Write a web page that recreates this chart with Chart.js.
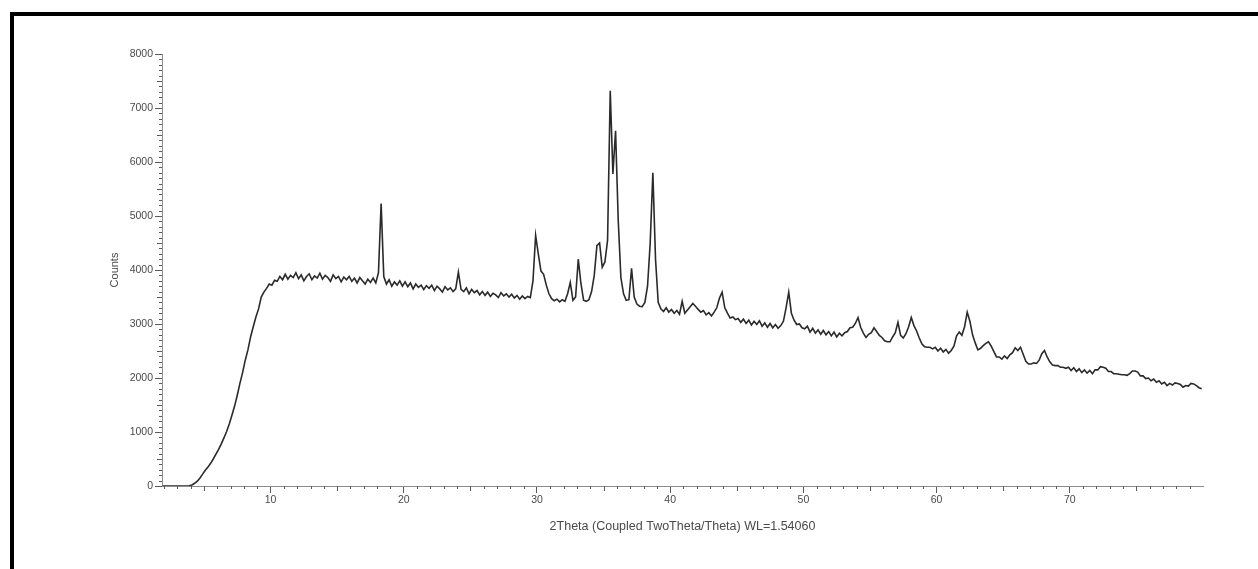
<!DOCTYPE html>
<html>
<head>
<meta charset="utf-8">
<script src="https://cdn.jsdelivr.net/npm/chart.js@4.4.1/dist/chart.umd.min.js"></script>
<style>
    body { margin: 0; background: #fff; }
    .wrap { position: relative; width: 1258px; height: 569px; overflow: hidden; background: #fff; }
    .frame { position: absolute; left: 10px; top: 12px; right: -10px; bottom: -10px; border-top: 4px solid #000; border-left: 4px solid #000; }
    canvas { position: absolute; left: 0; top: 0; }
</style>
</head>
<body>
<div class="wrap">
    <div class="frame"></div>
    <canvas id="xrdChart" width="1258" height="569"></canvas>
</div>
<script>
// 2theta 값 (스캔 위치), 한 줄 = 2도 구간
const twoTheta = [
    1.9, 2.1, 2.3, 2.5, 2.7, 2.9, 3.1, 3.3, 3.5, 3.7,
    3.9, 4.1, 4.3, 4.5, 4.7, 4.9, 5.1, 5.3, 5.5, 5.7,
    5.9, 6.1, 6.3, 6.5, 6.7, 6.9, 7.1, 7.3, 7.5, 7.7,
    7.9, 8.1, 8.3, 8.5, 8.7, 8.9, 9.1, 9.3, 9.5, 9.7,
    9.9, 10.1, 10.3, 10.5, 10.7, 10.9, 11.1, 11.3, 11.5, 11.7,
    11.9, 12.1, 12.3, 12.5, 12.7, 12.9, 13.1, 13.3, 13.5, 13.7,
    13.9, 14.1, 14.3, 14.5, 14.7, 14.9, 15.1, 15.3, 15.5, 15.7,
    15.9, 16.1, 16.3, 16.5, 16.7, 16.9, 17.1, 17.3, 17.5, 17.7,
    17.9, 18.1, 18.3, 18.5, 18.7, 18.9, 19.1, 19.3, 19.5, 19.7,
    19.9, 20.1, 20.3, 20.5, 20.7, 20.9, 21.1, 21.3, 21.5, 21.7,
    21.9, 22.1, 22.3, 22.5, 22.7, 22.9, 23.1, 23.3, 23.5, 23.7,
    23.9, 24.1, 24.3, 24.5, 24.7, 24.9, 25.1, 25.3, 25.5, 25.7,
    25.9, 26.1, 26.3, 26.5, 26.7, 26.9, 27.1, 27.3, 27.5, 27.7,
    27.9, 28.1, 28.3, 28.5, 28.7, 28.9, 29.1, 29.3, 29.5, 29.7,
    29.9, 30.1, 30.3, 30.5, 30.7, 30.9, 31.1, 31.3, 31.5, 31.7,
    31.9, 32.1, 32.3, 32.5, 32.7, 32.9, 33.1, 33.3, 33.5, 33.7,
    33.9, 34.1, 34.3, 34.5, 34.7, 34.9, 35.1, 35.3, 35.5, 35.7,
    35.9, 36.1, 36.3, 36.5, 36.7, 36.9, 37.1, 37.3, 37.5, 37.7,
    37.9, 38.1, 38.3, 38.5, 38.7, 38.9, 39.1, 39.3, 39.5, 39.7,
    39.9, 40.1, 40.3, 40.5, 40.7, 40.9, 41.1, 41.3, 41.5, 41.7,
    41.9, 42.1, 42.3, 42.5, 42.7, 42.9, 43.1, 43.3, 43.5, 43.7,
    43.9, 44.1, 44.3, 44.5, 44.7, 44.9, 45.1, 45.3, 45.5, 45.7,
    45.9, 46.1, 46.3, 46.5, 46.7, 46.9, 47.1, 47.3, 47.5, 47.7,
    47.9, 48.1, 48.3, 48.5, 48.7, 48.9, 49.1, 49.3, 49.5, 49.7,
    49.9, 50.1, 50.3, 50.5, 50.7, 50.9, 51.1, 51.3, 51.5, 51.7,
    51.9, 52.1, 52.3, 52.5, 52.7, 52.9, 53.1, 53.3, 53.5, 53.7,
    53.9, 54.1, 54.3, 54.5, 54.7, 54.9, 55.1, 55.3, 55.5, 55.7,
    55.9, 56.1, 56.3, 56.5, 56.7, 56.9, 57.1, 57.3, 57.5, 57.7,
    57.9, 58.1, 58.3, 58.5, 58.7, 58.9, 59.1, 59.3, 59.5, 59.7,
    59.9, 60.1, 60.3, 60.5, 60.7, 60.9, 61.1, 61.3, 61.5, 61.7,
    61.9, 62.1, 62.3, 62.5, 62.7, 62.9, 63.1, 63.3, 63.5, 63.7,
    63.9, 64.1, 64.3, 64.5, 64.7, 64.9, 65.1, 65.3, 65.5, 65.7,
    65.9, 66.1, 66.3, 66.5, 66.7, 66.9, 67.1, 67.3, 67.5, 67.7,
    67.9, 68.1, 68.3, 68.5, 68.7, 68.9, 69.1, 69.3, 69.5, 69.7,
    69.9, 70.1, 70.3, 70.5, 70.7, 70.9, 71.1, 71.3, 71.5, 71.7,
    71.9, 72.1, 72.3, 72.5, 72.7, 72.9, 73.1, 73.3, 73.5, 73.7,
    73.9, 74.1, 74.3, 74.5, 74.7, 74.9, 75.1, 75.3, 75.5, 75.7,
    75.9, 76.1, 76.3, 76.5, 76.7, 76.9, 77.1, 77.3, 77.5, 77.7,
    77.9, 78.1, 78.3, 78.5, 78.7, 78.9, 79.1, 79.3, 79.5, 79.7,
    79.9
];

// Counts, 위 twoTheta 와 줄 단위로 맞춤
const counts = [
    0, 0, 0, 0, 0, 0, 0, 0, 0, 0,
    5, 20, 50, 90, 150, 220, 290, 350, 420, 500,
    590, 680, 780, 890, 1010, 1150, 1310, 1480, 1680, 1900,
    2100, 2330, 2520, 2760, 2950, 3130, 3280, 3500, 3590, 3660,
    3740, 3720, 3810, 3790, 3880, 3820, 3920, 3830, 3900, 3860,
    3950, 3840, 3910, 3800, 3880, 3930, 3820, 3890, 3850, 3940,
    3830, 3900, 3860, 3790, 3910, 3840, 3880, 3780, 3870, 3820,
    3880, 3790, 3850, 3760, 3860, 3800, 3740, 3830, 3770, 3850,
    3760, 3950, 5230, 3880, 3740, 3820, 3700, 3780, 3720, 3800,
    3700, 3780, 3690, 3760, 3650, 3740, 3680, 3720, 3640, 3710,
    3660, 3720, 3620, 3700, 3650, 3590, 3690, 3630, 3670, 3600,
    3650, 3960, 3640, 3600, 3670, 3560, 3640, 3580, 3620, 3540,
    3600, 3530, 3590, 3510, 3570, 3540, 3490, 3580, 3520, 3560,
    3500, 3550, 3480, 3530, 3460, 3520, 3470, 3510, 3490, 3800,
    4640, 4300, 3980, 3920, 3720, 3560, 3470, 3430, 3460, 3410,
    3450, 3420, 3560, 3770, 3440, 3500, 4200, 3750, 3440, 3420,
    3450, 3600, 3900, 4450, 4500, 4050, 4150, 4550, 7320, 5780,
    6580, 4920, 3860, 3560, 3440, 3450, 4030, 3500, 3370, 3330,
    3320, 3400, 3700, 4500, 5800, 4200, 3400, 3280, 3230, 3300,
    3220, 3270, 3200, 3250, 3180, 3420, 3200, 3260, 3320, 3380,
    3330, 3270, 3220, 3250, 3170, 3210, 3150, 3220, 3300, 3480,
    3590, 3300, 3200, 3110, 3130, 3080, 3100, 3030, 3090, 3010,
    3070, 2980, 3050, 2990, 3060, 2960, 3020, 2940, 3010, 2930,
    2990, 2920, 2970, 3050, 3300, 3590, 3200, 3070, 2990, 3000,
    2930, 2910, 2960, 2850, 2920, 2830, 2890, 2810, 2880, 2800,
    2860, 2780, 2850, 2760, 2830, 2780, 2840, 2860, 2930, 2940,
    3010, 3120, 2940, 2830, 2750, 2810, 2840, 2930, 2860, 2790,
    2750, 2690, 2670, 2670, 2760, 2840, 3030, 2790, 2740, 2820,
    2950, 3120, 2970, 2870, 2740, 2630, 2580, 2570, 2570, 2540,
    2570, 2500, 2550, 2480, 2530, 2460, 2510, 2590, 2780, 2850,
    2790, 2950, 3220, 3050, 2800, 2650, 2520, 2550, 2600, 2640,
    2670, 2590, 2490, 2390, 2390, 2350, 2410, 2360, 2430, 2470,
    2560, 2510, 2570, 2440, 2310, 2260, 2260, 2280, 2270, 2330,
    2450, 2510, 2390, 2300, 2240, 2230, 2230, 2200, 2200, 2180,
    2200, 2140, 2190, 2120, 2170, 2100, 2150, 2090, 2140, 2080,
    2150, 2150, 2210, 2200, 2180, 2120, 2120, 2080, 2080, 2070,
    2060, 2060, 2050, 2080, 2130, 2130, 2110, 2040, 2040, 1990,
    2000, 1950, 1980, 1920, 1950, 1890, 1920, 1860, 1900, 1870,
    1910, 1900, 1880, 1830, 1860, 1850, 1900, 1890, 1860, 1820,
    1800
];

const xTickLabels = [10, 20, 30, 40, 50, 60, 70];
const yTickLabels = [0, 1000, 2000, 3000, 4000, 5000, 6000, 7000, 8000];

const AXIS_COLOR = '#8c8c8c';
const TICK_COLOR = '#5a5a5a';
const TEXT_COLOR = '#4a4a4a';
const FONT = 'Liberation Sans, Arial, sans-serif';

// 작은 눈금 그리기 (x: 1도, y: 100 counts)
const minorTicks = {
    id: 'minorTicks',
    afterDraw(chart) {
        const { ctx } = chart;
        const xs = chart.scales.x;
        const ys = chart.scales.y;
        ctx.save();
        ctx.strokeStyle = TICK_COLOR;
        ctx.lineWidth = 1;
        ctx.beginPath();
        for (let v = 2; v < 80; v++) {
            if (v % 10 === 0) continue;
            const px = Math.round(xs.getPixelForValue(v)) + 0.5;
            const len = v % 5 === 0 ? 5 : 3;
            ctx.moveTo(px, ys.bottom);
            ctx.lineTo(px, ys.bottom + len);
        }
        for (let v = 100; v < 8000; v += 100) {
            if (v % 1000 === 0) continue;
            const py = Math.round(ys.getPixelForValue(v)) + 0.5;
            const len = v % 500 === 0 ? 5 : 3;
            ctx.moveTo(xs.left - len, py);
            ctx.lineTo(xs.left, py);
        }
        ctx.stroke();
        ctx.restore();
    }
};

const ctx = document.getElementById('xrdChart').getContext('2d');
new Chart(ctx, {
    type: 'line',
    data: {
        datasets: [{
            label: 'Counts',
            data: twoTheta.map((t, i) => ({ x: t, y: counts[i] })),
            borderColor: '#2a2a2a',
            borderWidth: 1.6,
            pointRadius: 0,
            tension: 0,
            fill: false
        }]
    },
    options: {
        responsive: false,
        animation: false,
        devicePixelRatio: 1,
        layout: {
            padding: { left: 104, top: 54, right: 55, bottom: 33 }
        },
        plugins: {
            legend: { display: false },
            tooltip: { enabled: false }
        },
        scales: {
            x: {
                type: 'linear',
                min: 1.85,
                max: 80,
                afterBuildTicks: (scale) => {
                    scale.ticks = xTickLabels.map(v => ({ value: v }));
                },
                afterFit: (scale) => { scale.height = 50; },
                border: { display: true, color: AXIS_COLOR, width: 1 },
                grid: { drawOnChartArea: false, drawTicks: true, tickLength: 7, tickColor: TICK_COLOR },
                ticks: {
                    padding: 1,
                    maxRotation: 0,
                    color: TEXT_COLOR,
                    font: { family: FONT, size: 10.5 },
                    callback: (v) => String(v)
                },
                title: {
                    display: true,
                    text: '2Theta (Coupled TwoTheta/Theta) WL=1.54060',
                    color: TEXT_COLOR,
                    padding: { top: 0, bottom: 2 },
                    font: { family: FONT, size: 12.5 }
                }
            },
            y: {
                type: 'linear',
                min: 0,
                max: 8000,
                afterBuildTicks: (scale) => {
                    scale.ticks = yTickLabels.map(v => ({ value: v }));
                },
                afterFit: (scale) => { scale.width = 58; },
                border: { display: true, color: AXIS_COLOR, width: 1 },
                grid: { drawOnChartArea: false, drawTicks: true, tickLength: 7, tickColor: TICK_COLOR },
                ticks: {
                    padding: 2,
                    color: TEXT_COLOR,
                    font: { family: FONT, size: 10.5 },
                    callback: (v) => String(v)
                },
                title: {
                    display: true,
                    text: 'Counts',
                    color: TEXT_COLOR,
                    padding: { top: 4, bottom: 0 },
                    font: { family: FONT, size: 11 }
                }
            }
        }
    },
    plugins: [minorTicks]
});
</script>
</body>
</html>
